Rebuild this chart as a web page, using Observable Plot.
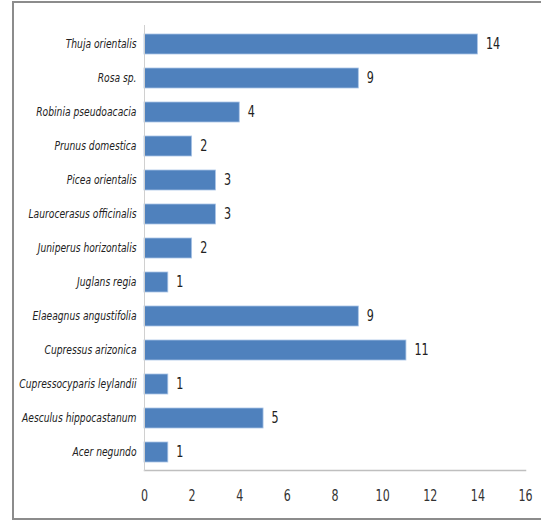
<!DOCTYPE html>
<html>
<head>
<meta charset="utf-8">
<script src="https://cdn.jsdelivr.net/npm/d3@7"></script>
<script src="https://cdn.jsdelivr.net/npm/@observablehq/plot@0.6"></script>
<style>
  body { margin: 0; background: #fff; }
  #wrap { position: relative; width: 541px; height: 523px; overflow: hidden; }
  #border { position: absolute; left: 12px; top: 1px; width: 600px; height: 519px; border: 2px solid #8c8c8c; box-sizing: border-box; }
  #chart { position: absolute; left: 0; top: 0; }
</style>
</head>
<body>
<div id="wrap"><div id="border"></div><div id="chart"></div></div>
<script>
const species = [
  "Thuja orientalis", "Rosa sp.", "Robinia pseudoacacia", "Prunus domestica",
  "Picea orientalis", "Laurocerasus officinalis", "Juniperus horizontalis",
  "Juglans regia", "Elaeagnus angustifolia", "Cupressus arizonica",
  "Cupressocyparis leylandii", "Aesculus hippocastanum", "Acer negundo"
];
const counts = [14, 9, 4, 2, 3, 3, 2, 1, 9, 11, 1, 5, 1];
const xTicks = [0, 2, 4, 6, 8, 10, 12, 14, 16];

const data = species.map((s, i) => ({species: s, count: counts[i]}));
const font = "'Liberation Sans Narrow', 'DejaVu Sans Condensed', 'Roboto Condensed', sans-serif";

const plot = Plot.plot({
  width: 541,
  height: 523,
  marginLeft: 144,
  marginRight: 16,
  marginTop: 25,
  marginBottom: 53,
  style: {fontFamily: font, background: "transparent", overflow: "visible"},
  x: {domain: [0, 16], ticks: xTicks},
  y: {domain: species, paddingInner: 0.42, paddingOuter: 0.21},
  marks: [
    Plot.barX(data, {x: "count", y: "species", fill: "#4f81bd", stroke: "#a9c4e6", strokeWidth: 0.8}),
    Plot.text(data, {x: "count", y: "species", text: d => String(d.count), dx: 8, textAnchor: "start", fontSize: 15.5, fill: "#222", fontFamily: font, className: "vlabel"}),
    Plot.frame({anchor: "bottom", stroke: "#bfbfbf", strokeWidth: 1.5}),
    Plot.frame({anchor: "left", stroke: "#d0d0d0", strokeWidth: 1}),
    Plot.axisX({ticks: xTicks, tickSize: 0, tickPadding: 20, fontSize: 15, fill: "#333", label: null, fontFamily: font, className: "xax"}),
    Plot.axisY({tickSize: 0, tickPadding: 8, fontSize: 12, fontStyle: "italic", fill: "#222", label: null, fontFamily: font, className: "yax"})
  ]
});
document.getElementById("chart").appendChild(plot);

function condense(sel, k) {
  d3.select(plot).selectAll(sel).each(function() {
    const w = this.getComputedTextLength();
    if (w > 0) {
      this.setAttribute("textLength", (w * k).toFixed(2));
      this.setAttribute("lengthAdjust", "spacingAndGlyphs");
    }
  });
}
condense(".yax text", 0.85);
condense(".xax text", 0.82);
condense(".vlabel text", 0.8);
</script>
</body>
</html>
